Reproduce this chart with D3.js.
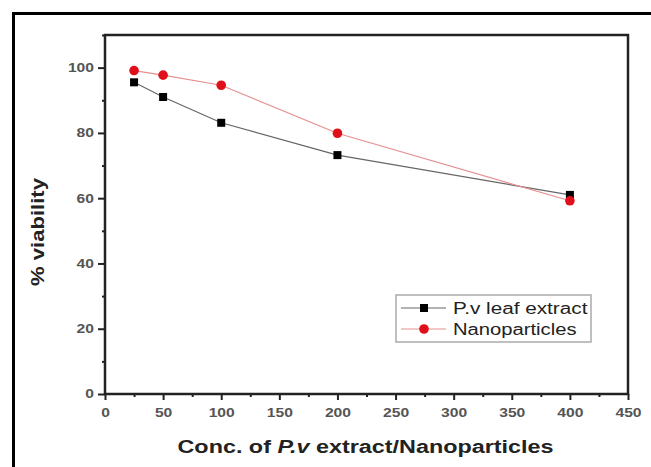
<!DOCTYPE html>
<html>
<head>
<meta charset="utf-8">
<script src="https://cdn.jsdelivr.net/npm/d3@7"></script>
<style>
  body { margin: 0; background: #fff; }
  text { font-family: "Liberation Sans", Arial, sans-serif; }
</style>
</head>
<body>
<div id="chart"></div>
<script>
// concentrations (x) and % viability for each series
var conc = [25, 50, 100, 200, 400];
var leafExtract = [95.5, 91.0, 83.1, 73.2, 61.0];
var nanoparticles = [99.1, 97.7, 94.6, 79.9, 59.2];
var seriesNames = ['P.v leaf extract', 'Nanoparticles'];
var xTicks = [0, 50, 100, 150, 200, 250, 300, 350, 400, 450];
var yTicks = [0, 20, 40, 60, 80, 100];

var W = 651, H = 467;
var m = { top: 35, right: 23, bottom: 73, left: 105 };

var svg = d3.select('#chart').append('svg')
    .attr('width', W).attr('height', H);

// outer frame (only left + top visible in the picture)
svg.append('path')
    .attr('d', 'M13.5,' + H + 'V13.5H' + W)
    .attr('fill', 'none').attr('stroke', '#000').attr('stroke-width', 3);

var x = d3.scaleLinear().domain([0, 450]).range([m.left, W - m.right]);
var y = d3.scaleLinear().domain([0, 110]).range([H - m.bottom, m.top]);

var g = svg.append('g');

// axes, ticks out (major + minor)
var xAxis = d3.axisBottom(x).tickValues(xTicks).tickSize(6).tickPadding(8);
var xMinor = d3.axisBottom(x).tickValues(xTicks.slice(0, -1).map(function(v) { return v + 25; }))
    .tickSize(3).tickFormat('');
var yAxis = d3.axisLeft(y).tickValues(yTicks).tickSize(7).tickPadding(4);
var yMinor = d3.axisLeft(y).tickValues(yTicks.map(function(v) { return v + 10; }))
    .tickSize(3).tickFormat('');

// the picture's lettering is wider than the font, so stretch it a bit
function stretch(sel, perChar) {
    sel.attr('textLength', function() { return this.textContent.length * perChar; })
        .attr('lengthAdjust', 'spacingAndGlyphs');
}

function styleAxis(sel) {
    sel.select('.domain').remove();
    sel.selectAll('line').attr('stroke', '#222').attr('stroke-width', 2);
    sel.selectAll('text').attr('fill', '#555').attr('font-size', 12).attr('font-weight', 'bold')
        .call(stretch, 8.7);
}

g.append('g').attr('transform', 'translate(0,' + y(0) + ')').call(xAxis).call(styleAxis);
g.append('g').attr('transform', 'translate(0,' + y(0) + ')').call(xMinor).call(styleAxis);
g.append('g').attr('transform', 'translate(' + x(0) + ',0)').call(yAxis).call(styleAxis);
g.append('g').attr('transform', 'translate(' + x(0) + ',0)').call(yMinor).call(styleAxis);

// plot frame
g.append('rect')
    .attr('x', x(0)).attr('y', y(110))
    .attr('width', x(450) - x(0)).attr('height', y(0) - y(110))
    .attr('fill', 'none').attr('stroke', '#222').attr('stroke-width', 2.5);

var line = d3.line()
    .x(function(d) { return x(d[0]); })
    .y(function(d) { return y(d[1]); });

var leafPts = conc.map(function(c, i) { return [c, leafExtract[i]]; });
var nanoPts = conc.map(function(c, i) { return [c, nanoparticles[i]]; });

g.append('path').datum(leafPts).attr('d', line)
    .attr('fill', 'none').attr('stroke', '#666').attr('stroke-width', 1.2);
g.append('path').datum(nanoPts).attr('d', line)
    .attr('fill', 'none').attr('stroke', '#e69090').attr('stroke-width', 1.2);

g.selectAll('rect.leaf').data(leafPts).enter().append('rect')
    .attr('class', 'leaf')
    .attr('x', function(d) { return x(d[0]) - 4; })
    .attr('y', function(d) { return y(d[1]) - 4; })
    .attr('width', 8).attr('height', 8)
    .attr('fill', '#000');

g.selectAll('circle.nano').data(nanoPts).enter().append('circle')
    .attr('class', 'nano')
    .attr('cx', function(d) { return x(d[0]); })
    .attr('cy', function(d) { return y(d[1]); })
    .attr('r', 4.8)
    .attr('fill', '#e0101a');

// legend
var lg = svg.append('g').attr('transform', 'translate(396,295)');
lg.append('rect').attr('width', 195).attr('height', 47)
    .attr('fill', '#fff').attr('stroke', '#aaa').attr('stroke-width', 1.5);
seriesNames.forEach(function(name, i) {
    var yy = 13 + i * 21;
    lg.append('line').attr('x1', 5).attr('x2', 50).attr('y1', yy).attr('y2', yy)
        .attr('stroke', i === 0 ? '#666' : '#e69090').attr('stroke-width', 1.2);
    if (i === 0) {
        lg.append('rect').attr('x', 24).attr('y', yy - 4).attr('width', 8).attr('height', 8).attr('fill', '#000');
    } else {
        lg.append('circle').attr('cx', 28).attr('cy', yy).attr('r', 4.8).attr('fill', '#e0101a');
    }
    lg.append('text').attr('x', 57).attr('y', yy + 6)
        .attr('font-size', 16).attr('fill', '#222').text(name)
        .call(stretch, i === 0 ? 8.4 : 9.5);
});

// axis titles
svg.append('text')
    .attr('transform', 'translate(44,' + 232 + ') rotate(-90)')
    .attr('text-anchor', 'middle')
    .attr('font-size', 18).attr('font-weight', 'bold').attr('fill', '#222')
    .attr('textLength', 108).attr('lengthAdjust', 'spacingAndGlyphs')
    .text('% viability');

var xt = svg.append('text')
    .attr('x', x(225) - 1).attr('y', 453)
    .attr('text-anchor', 'middle')
    .attr('font-size', 18).attr('font-weight', 'bold').attr('fill', '#222')
    .attr('textLength', 376).attr('lengthAdjust', 'spacingAndGlyphs');
xt.append('tspan').text('Conc. of ');
xt.append('tspan').attr('font-style', 'italic').text('P.v');
xt.append('tspan').text(' extract/Nanoparticles');
</script>
</body>
</html>
